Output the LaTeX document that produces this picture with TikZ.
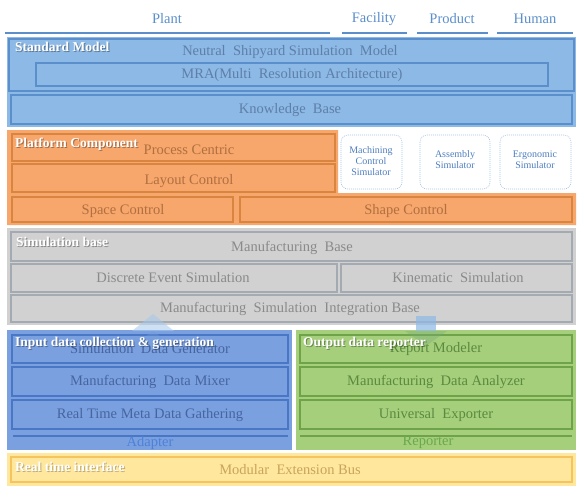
\documentclass[tikz,border=0pt]{standalone}
\usepackage{fontspec}
\setmainfont{Liberation Serif}
\usetikzlibrary{shapes.geometric}
\definecolor{smfill}{HTML}{8DB9E6}
\definecolor{smdraw}{HTML}{5B8FCB}
\definecolor{smtext}{HTML}{5E7FA8}
\definecolor{hdrtext}{HTML}{5B8FCB}
\definecolor{orfill}{HTML}{F7A66C}
\definecolor{ordraw}{HTML}{D9843F}
\definecolor{ortext}{HTML}{B0703F}
\definecolor{grfill}{HTML}{D1D1D1}
\definecolor{grdraw}{HTML}{A3AAB2}
\definecolor{grtext}{HTML}{8A8A8A}
\definecolor{infill}{HTML}{7BA0E0}
\definecolor{indraw}{HTML}{4A76C6}
\definecolor{intext}{HTML}{46659F}
\definecolor{adtext}{HTML}{4C82D6}
\definecolor{oufill}{HTML}{A6CF7C}
\definecolor{oudraw}{HTML}{6EA34A}
\definecolor{outext}{HTML}{5A8A3E}
\definecolor{retext}{HTML}{69A84E}
\definecolor{yefill}{HTML}{FFE79E}
\definecolor{yedraw}{HTML}{F5C45E}
\definecolor{yetext}{HTML}{C9A45A}
\definecolor{simtext}{HTML}{4F7FBF}
\definecolor{simdraw}{HTML}{A8C4E4}
\begin{document}
\begin{tikzpicture}[x=1pt,y=-1pt,
  txt/.style={font=\fontsize{14.5}{16}\selectfont, inner sep=0pt},
  lbl/.style={font=\fontsize{13.5}{15}\selectfont\bfseries, text=white, anchor=west, inner sep=0pt},
  lblsh/.style={lbl, text=black, opacity=0.35},
  hdr/.style={txt, text=hdrtext},
  hline/.style={draw=smdraw, line width=2.5pt},
  smbox/.style={draw=smdraw, line width=1.1pt, fill=smfill},
  orbox/.style={draw=ordraw, line width=1.1pt, fill=orfill},
  grbox/.style={draw=grdraw, line width=1.1pt, fill=grfill},
  inbox/.style={draw=indraw, line width=1.1pt, fill=infill},
  oubox/.style={draw=oudraw, line width=1.1pt, fill=oufill},
  yebox/.style={draw=yedraw, line width=1.1pt, fill=yefill},
  simbox/.style={draw=simdraw, dashed, dash pattern=on 1pt off 1pt, rounded corners=7pt, fill=white, line width=0.6pt},
  simtxt/.style={font=\fontsize{10}{11}\selectfont, text=simtext, align=center, inner sep=0pt}
]
\useasboundingbox (0,0) rectangle (586,496);
\fill[white] (0,0) rectangle (586,496);

% header
\node[hdr] (hplant) at (167,19) {Plant};
\node[hdr] (hfac) at (374,19) {Facility};
\node[hdr] (hprod) at (452,19) {Product};
\node[hdr] (hhum) at (535,19) {Human};
\draw[hline] (5,33) -- (330,33);
\draw[hline] (342,33) -- (407,33);
\draw[hline] (417,33) -- (488,33);
\draw[hline] (497,33) -- (573,33);

% Standard model
\fill[smfill] (7,37) rectangle (576,127);
\draw[smbox] (9,39) rectangle (574,91);
\draw[smbox] (36,63) rectangle (548,86);
\draw[smbox] (11,95) rectangle (572,124);
\node[txt, text=smtext] (nssm) at (290,52) {Neutral\ \ Shipyard Simulation\ \ Model};
\node[txt, text=smtext] (mra) at (292,75) {MRA(Multi\ \ Resolution Architecture)};
\node[txt, text=smtext] (kb) at (290,110) {Knowledge\ \ Base};
\node[lblsh] (lsms) at (16,48) {Standard Model};
\node[lbl] (lsm) at (15,47) {Standard Model};

% Platform component
\fill[orfill] (7,130) -- (338,130) -- (338,193) -- (576,193) -- (576,225) -- (7,225) -- cycle;
\draw[orbox] (12,134) rectangle (335,161);
\draw[orbox] (12,164) rectangle (335,192);
\draw[orbox] (12,197) rectangle (233,222);
\draw[orbox] (240,197) rectangle (572,222);
\node[txt, text=ortext] (pc) at (189,150) {Process Centric};
\node[txt, text=ortext] (lc) at (189,181) {Layout Control};
\node[txt, text=ortext] (spc) at (123,211) {Space Control};
\node[txt, text=ortext] (shc) at (406,211) {Shape Control};
\node[lblsh] (lpcs) at (16,145) {Platform Component};
\node[lbl] (lpc) at (15,144) {Platform Component};
\draw[simbox] (341,135) rectangle (402,189);
\draw[simbox] (420,135) rectangle (490,189);
\draw[simbox] (500,135) rectangle (571,189);
\node[simtxt] (mcs) at (371,161) {Machining\\Control\\Simulator};
\node[simtxt] (as) at (455,160) {Assembly\\Simulator};
\node[simtxt] (es) at (535,160) {Ergonomic\\Simulator};

% Simulation base
\fill[grfill] (7,228) rectangle (576,325);
\draw[grbox] (11,232) rectangle (572,261);
\draw[grbox] (11,264) rectangle (337,292);
\draw[grbox] (341,264) rectangle (572,292);
\draw[grbox] (11,295) rectangle (572,322);
\node[txt, text=grtext] (mb) at (292,248) {Manufacturing\ \ Base};
\node[txt, text=grtext] (des) at (173,278) {Discrete Event Simulation};
\node[txt, text=grtext] (ks) at (458,278) {Kinematic\ \ Simulation};
\node[txt, text=grtext] (msib) at (290,309) {Manufacturing\ \ Simulation\ \ Integration Base};
\node[lblsh] (lsbs) at (17,243) {Simulation base};
\node[lbl] (lsb) at (16,242) {Simulation base};

% Input / Output
\fill[infill] (7,330) rectangle (292,450);
\fill[oufill] (296,330) rectangle (576,450);
\draw[inbox] (12,335) rectangle (288,363);
\draw[inbox] (12,367) rectangle (288,396);
\draw[inbox] (12,400) rectangle (288,429);
\draw[indraw, line width=1.8pt] (13,436) -- (288,436);
\draw[oubox] (300,335) rectangle (572,363);
\draw[oubox] (300,367) rectangle (572,396);
\draw[oubox] (300,400) rectangle (572,429);
\draw[oudraw, line width=1.8pt] (300,436) -- (572,436);
\node[txt, text=intext] (sdg) at (150,349) {Simulation\ \ Data Generator};
\node[txt, text=intext] (mdm) at (150,382) {Manufacturing\ \ Data Mixer};
\node[txt, text=intext] (rtm) at (150,415) {Real Time Meta Data Gathering};
\node[txt, text=adtext] (adp) at (150,443) {Adapter};
\node[txt, text=outext] (rm) at (436,349) {Report Modeler};
\node[txt, text=outext] (mda) at (436,382) {Manufacturing\ \ Data Analyzer};
\node[txt, text=outext] (ue) at (436,415) {Universal\ \ Exporter};
\node[txt, text=retext] (rep) at (428,442) {Reporter};

% faint arrows
\fill[smfill!80!white, opacity=0.55] (153,314) -- (174,331) -- (132,331) -- cycle;
\fill[smfill!60!indraw, opacity=0.35] (153,331) -- (174,346) -- (132,346) -- cycle;
\fill[smfill, opacity=0.7] (416,316) rectangle (436,331);
\fill[oudraw!70!smfill, opacity=0.35] (405,331) -- (447,331) -- (426,346) -- cycle;

\node[lblsh] (lins) at (16,344) {Input data collection \& generation};
\node[lbl] (lin) at (15,343) {Input data collection \& generation};
\node[lblsh] (louts) at (304,344) {Output data reporter};
\node[lbl] (lout) at (303,343) {Output data reporter};

% Real time interface
\fill[yefill] (7,453) rectangle (576,486);
\draw[yebox] (11,457) rectangle (572,482);
\node[txt, text=yetext] (meb) at (290,470) {Modular\ \ Extension Bus};
\node[lblsh, opacity=0.25] (lrts) at (16,468) {Real time interface};
\node[lbl] (lrt) at (15,467) {Real time interface};
\end{tikzpicture}
\end{document}
